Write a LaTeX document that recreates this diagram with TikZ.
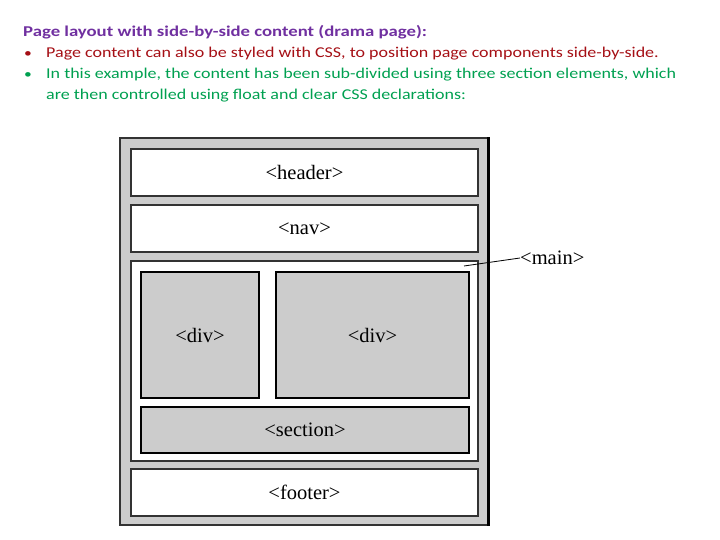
\documentclass[tikz,border=0pt]{standalone}
\usepackage{fontspec}
\setmainfont{Carlito}[FakeStretch=1.2]
\newfontfamily\titlefont{Carlito}[FakeStretch=1.25]
\newfontfamily\tagfont{Liberation Serif}
\definecolor{titlepurple}{HTML}{7030A0}
\definecolor{bulletred}{HTML}{A50F15}
\definecolor{bulletgreen}{HTML}{00A050}
\definecolor{boxgray}{HTML}{CCCCCC}
\tikzset{
  slidetext/.style={anchor=base west, inner sep=0pt, font=\fontsize{15}{18}\selectfont},
  bulletdot/.style={anchor=base west, inner sep=0pt, font=\fontsize{13}{18}\selectfont},
  pagebox/.style={draw=black!80, line width=1.6pt, fill=white, inner sep=0pt,
    font=\tagfont\fontsize{20.5}{24}\selectfont},
  partbox/.style={pagebox, fill=boxgray, draw=black, line width=2pt},
}
\begin{document}
\begin{tikzpicture}[x=1pt,y=-1pt]
    \useasboundingbox (0,0) rectangle (720,540);
    % constants
    \def\rowwidth{347pt}
    \def\rowheight{47pt}
    % heading and bullets
    \node [slidetext, text=titlepurple, font=\titlefont\bfseries\fontsize{15}{18}\selectfont] (title) at (23,37)
      {Page layout with side-by-side content (drama page):};
    \node [bulletdot, text=bulletred] (dotA) at (24,58) {•};
    \node [slidetext, text=bulletred] (lineA) at (46,58)
      {Page content can also be styled with CSS, to position page components side-by-side.};
    \node [bulletdot, text=bulletgreen] (dotB) at (24,79) {•};
    \node [slidetext, text=bulletgreen] (lineB) at (46,79)
      {In this example, the content has been sub-divided using three section elements, which};
    \node [slidetext, text=bulletgreen] (lineC) at (46,100)
      {are then controlled using float and clear CSS declarations:};
    % outer page
    \node [pagebox, fill=boxgray, line width=1.4pt, minimum width=368pt, minimum height=387pt] (page) at (304,331.5) {};
    \draw [line width=2.8pt] (page.north east) -- (page.south east);
    % rows
    \node [pagebox, minimum width=\rowwidth, minimum height=\rowheight] (header) at (304.5,172.5) {<header>};
    \node [pagebox, minimum width=\rowwidth, minimum height=\rowheight] (nav) at (304.5,228.5) {<nav>};
    \node [pagebox, minimum width=\rowwidth, minimum height=200pt] (main) at (304.5,361) {};
    \node [pagebox, minimum width=\rowwidth, minimum height=\rowheight] (footer) at (304.5,492.5) {<footer>};
    % inside main
    \node [partbox, minimum width=118pt, minimum height=126pt] (divleft) at (200,335) {<div>};
    \node [partbox, minimum width=193pt, minimum height=126pt] (divright) at (372.5,335) {<div>};
    \node [partbox, minimum width=328pt, minimum height=46pt] (section) at (305,430) {<section>};
    % main label
    \node [font=\tagfont\fontsize{20.5}{24}\selectfont, anchor=west, inner sep=0pt] (mainlabel) at (520,258) {<main>};
    \coordinate (mainpoint) at (464,266);
    \draw [line width=0.8pt] (mainpoint) -- (mainlabel.west);
\end{tikzpicture}
\end{document}
